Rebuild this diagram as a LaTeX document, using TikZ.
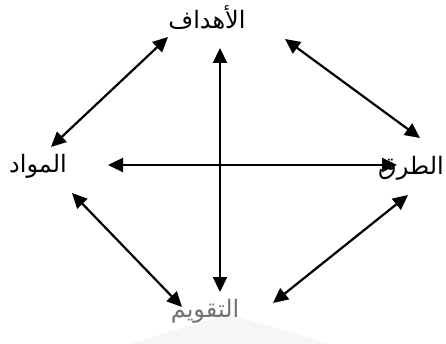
\documentclass[tikz,border=0pt]{standalone}
\usepackage{fontspec}
\newfontfamily\arabicfont[Script=Arabic]{DejaVu Sans}
\TeXXeTstate=1
\usetikzlibrary{arrows.meta}
\begin{document}
\begin{tikzpicture}[x=1pt,y=-1pt,
  conn/.style={line width=2.2pt,{Triangle[length=15pt,width=14pt]}-{Triangle[length=15pt,width=14pt]}},
  word/.style={font=\arabicfont\fontsize{24}{28}\selectfont,inner sep=0pt}]
\useasboundingbox (0,0) rectangle (446,344);
\fill[gray!7] (130,344) -- (228,314) -- (330,344) -- cycle;
\node[word] (top) at (207,18) {\beginR الأهداف\endR};
\node[word] (left) at (38,166) {\beginR المواد\endR};
\node[word] (right) at (411,168) {\beginR الطرق\endR};
\node[word,text=black!55] (bottom) at (205,311) {\beginR التقويم\endR};
\coordinate (tl1) at (168,37);
\coordinate (tl2) at (51,147);
\coordinate (tr1) at (285,39);
\coordinate (tr2) at (420,138);
\coordinate (v1) at (220,48);
\coordinate (v2) at (220,292);
\coordinate (h1) at (108,165);
\coordinate (h2) at (397,165);
\coordinate (bl1) at (72,193);
\coordinate (bl2) at (182,307);
\coordinate (br1) at (408,195);
\coordinate (br2) at (273,303);
\draw[conn] (tl1) -- (tl2);
\draw[conn] (tr1) -- (tr2);
\draw[conn] (v1) -- (v2);
\draw[conn] (h1) -- (h2);
\draw[conn] (bl1) -- (bl2);
\draw[conn] (br1) -- (br2);
\end{tikzpicture}
\end{document}
